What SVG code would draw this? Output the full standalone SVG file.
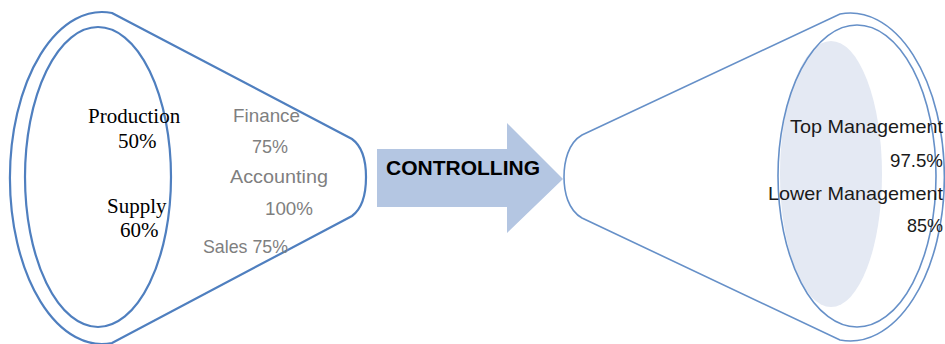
<svg xmlns="http://www.w3.org/2000/svg" width="945" height="344" viewBox="0 0 945 344">
<style>
.lf{fill:none;stroke:#4f7fbf;stroke-width:2.2}
.rf{fill:none;stroke:#6690c8;stroke-width:1.6}
.tm{font-family:"Liberation Serif","Times New Roman",serif;font-size:21px;fill:#000}
.gr{font-family:"Liberation Sans",Arial,sans-serif;font-size:18.5px;fill:#7f7f7f}
.bk{font-family:"Liberation Sans",Arial,sans-serif;font-size:18.5px;fill:#1a1a1a}
.ar{font-family:"Liberation Sans",Arial,sans-serif;font-size:20px;font-weight:bold;fill:#000}
</style>
<rect width="945" height="344" fill="#fff"/>
<g id="left-funnel">
<path class="lf" d="M112,13 L352,139 C363,147 366,162 366,177 C366,192 363,208 352,216 L112,343 A92 166 0 1 1 112,13 Z"/>
<ellipse class="lf" cx="98" cy="177" rx="73" ry="150"/>
<text class="tm" x="88" y="123">Production</text>
<text class="tm" x="118" y="148">50%</text>
<text class="tm" x="107" y="213">Supply</text>
<text class="tm" x="120" y="237">60%</text>
<text class="gr" x="233" y="122" textLength="67" lengthAdjust="spacingAndGlyphs">Finance</text>
<text class="gr" x="252" y="153" textLength="36" lengthAdjust="spacingAndGlyphs">75%</text>
<text class="gr" x="230" y="183" textLength="98" lengthAdjust="spacingAndGlyphs">Accounting</text>
<text class="gr" x="265" y="215" textLength="48" lengthAdjust="spacingAndGlyphs">100%</text>
<text class="gr" x="203" y="253" textLength="85" lengthAdjust="spacingAndGlyphs">Sales 75%</text>
</g>
<g id="connectors">
<path d="M377,149 L507,149 L507,123 L563,179 L507,233 L507,207 L377,207 Z" fill="#b4c6e2"/>
<text class="ar" x="386" y="175" textLength="154" lengthAdjust="spacingAndGlyphs">CONTROLLING</text>
</g>
<g id="right-funnel">
<ellipse cx="831" cy="174" rx="51" ry="133" fill="#e4e9f3"/>
<path class="rf" d="M582,135 L840,14 A94 164 0 1 1 840,340 L582,218 C568,210 564,192 564,177 C564,162 568,143 582,135 Z"/>
<ellipse class="rf" cx="857" cy="176" rx="79" ry="151"/>
<text class="bk" x="790" y="133" textLength="153" lengthAdjust="spacingAndGlyphs">Top Management</text>
<text class="bk" x="890" y="167" textLength="53" lengthAdjust="spacingAndGlyphs">97.5%</text>
<text class="bk" x="768" y="200" textLength="175" lengthAdjust="spacingAndGlyphs">Lower Management</text>
<text class="bk" x="907" y="232" textLength="36" lengthAdjust="spacingAndGlyphs">85%</text>
</g>
</svg>
